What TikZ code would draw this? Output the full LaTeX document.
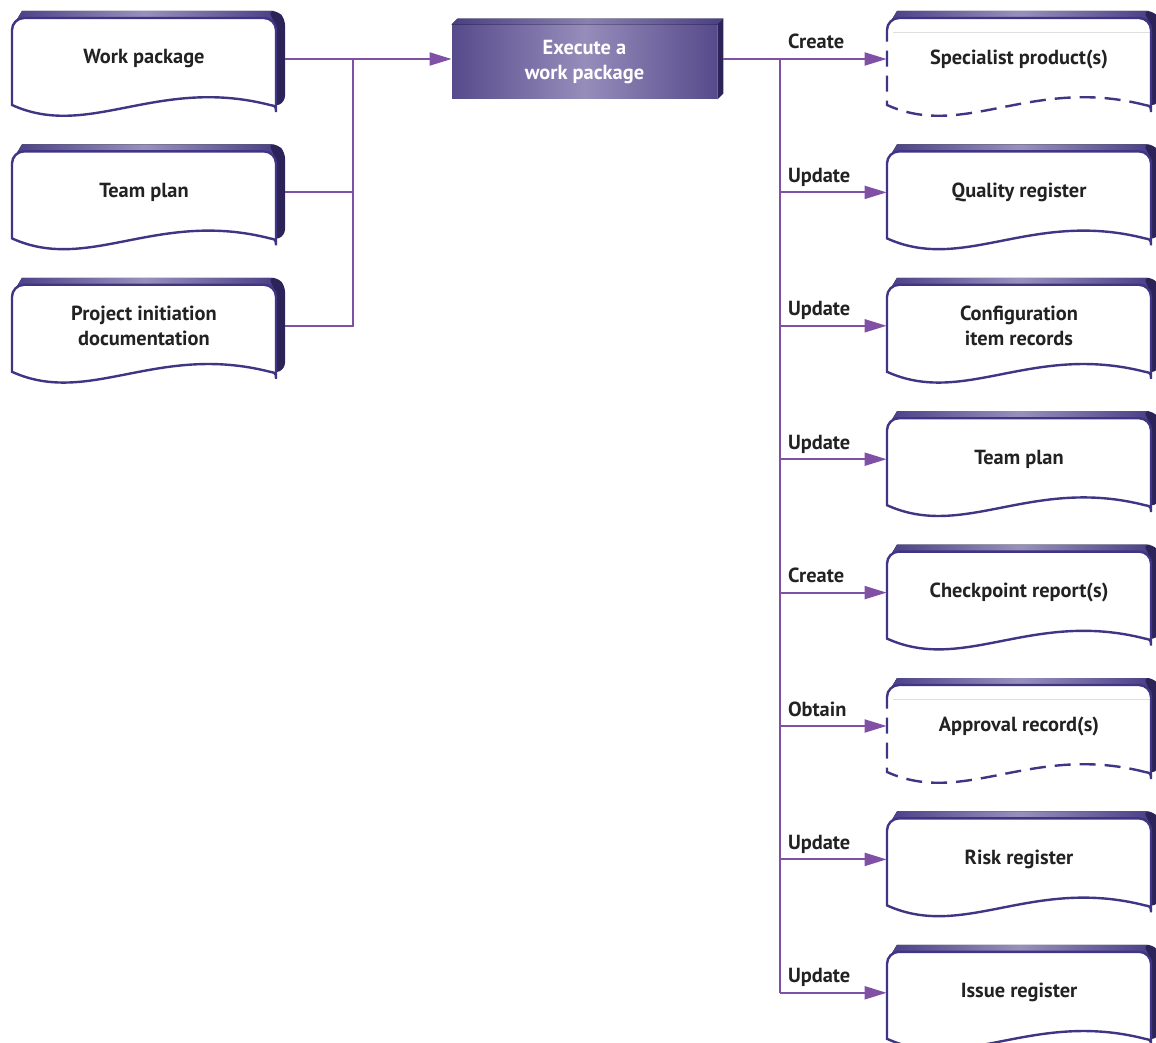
\documentclass[tikz,border=0pt]{standalone}
\usepackage{fontspec}
\setmainfont{PT Sans}
\usetikzlibrary{arrows.meta}
\definecolor{lnk}{RGB}{128,80,165}
\definecolor{edge}{RGB}{62,53,133}
\definecolor{shdA}{RGB}{74,63,134}
\definecolor{shdB}{RGB}{152,144,188}
\definecolor{shdC}{RGB}{44,36,89}
\definecolor{exA}{RGB}{87,74,139}
\definecolor{exB}{RGB}{150,141,187}
\definecolor{ink}{RGB}{34,34,34}

\begin{document}
\begin{tikzpicture}[x=0.5pt,y=-0.5pt,font=\fontsize{10.2}{12.5}\selectfont\bfseries,text=ink,
  link/.style={draw=lnk,line width=1pt},
  tip/.style={-{Triangle[length=11pt,width=6.5pt]}},
  docline/.style={draw=edge,line width=1.2pt,fill=white},
  dashbits/.style={dash pattern=on 8pt off 4.5pt},
  docnode/.style={minimum width=132pt,minimum height=43.5pt,inner sep=0pt,align=center},
  verb/.style={anchor=base west,inner sep=0pt,xshift=3.5pt,yshift=5pt},
  execbox/.style={minimum width=132.5pt,minimum height=37pt,inner sep=0pt,align=center,
    left color=exA,right color=exA,middle color=exB,text=white},
  docshade/.pic={
    \fill[left color=shdA,right color=shdA,middle color=shdB] (1,8) -- (10,-7) -- (260,-7) -- (264,2) -- cycle;
    \fill[shdC,rounded corners=3pt] (256,-7) -- (266,-7) -- (273,1) -- (273,84) -- (262,89) -- (262,2) -- cycle;
  },
  doc/.pic={
    \pic {docshade};
    \path[docline] (0,87) [rounded corners=6pt] -- (0,0) -- (264,0) -- (264,82) [sharp corners]
      .. controls (264,87) and (262,88) .. (258,87) .. controls (145,58) and (77,122) .. (0,87) -- cycle;
  },
  docdash/.pic={
    \pic {docshade};
    \fill[white] (0,87) [rounded corners=6pt] -- (0,0) -- (264,0) -- (264,82) [sharp corners]
      .. controls (264,87) and (262,88) .. (258,87) .. controls (145,58) and (77,122) .. (0,87) -- cycle;
    \draw[gray!25,line width=0.4pt] (6,14) -- (264,14);
    \draw[docline,fill=none] (0,16) [rounded corners=6pt] -- (0,0) -- (264,0) -- (264,82) [sharp corners]
      .. controls (264,87) and (262,88) .. (258,87);
    \draw[docline,fill=none,dashbits] (258,87) .. controls (145,58) and (77,122) .. (0,87) -- (0,16);
  }]
\useasboundingbox (0,0) rectangle (1156,1043);
% inputs on the left
\foreach \n/\y/\t in {wp/18/Work package,tp/151.4/Team plan,pid/284.8/{Project initiation\\documentation}} {
  \pic at (12,\y) {doc};
  \node[docnode] (\n) at (144,\y+41) {\t};
}
% the activity
\node[execbox] (exec) at (584.5,62) {Execute a\\work package};
\fill[left color=shdA,right color=shdA,middle color=shdB!80!shdA]
  (exec.north west) -- ++(6,-6) -- ([shift={(6,-6)}]exec.north east) -- (exec.north east) -- cycle;
\fill[shdC] (exec.north east) -- ++(6,-6) -- ([shift={(6,-6)}]exec.south east) -- (exec.south east) -- cycle;
% outputs on the right
\foreach \n/\i/\t/\s in {sp/0/Specialist product(s)/docdash,qr/1/Quality register/doc,
    cir/2/{Configuration\\item records}/doc,tp2/3/Team plan/doc,cpr/4/Checkpoint report(s)/doc,
    ar/5/Approval record(s)/docdash,rr/6/Risk register/doc,ir/7/Issue register/doc} {
  \pic at (887,18+133.4*\i) {\s};
  \node[docnode] (\n) at (1019,59+133.4*\i) {\t};
}
% connectors
\coordinate (join) at (353,59);
\coordinate (trunk) at (780,59);
\draw[link,tip] ([xshift=4.5pt]wp.east) -- (wp.east -| exec.west);
\draw[link] ([xshift=4.5pt]tp.east) -| (join);
\draw[link] ([xshift=4.5pt]pid.east) -| (join);
\draw[link] ([xshift=3pt]exec.east |- trunk) -- (trunk) -- (trunk |- ir.west);
\foreach \n/\v in {sp/Create,qr/Update,cir/Update,tp2/Update,cpr/Create,ar/Obtain,rr/Update,ir/Update}
  \draw[link,tip] (trunk |- \n.west) -- (\n.west) node[pos=0,verb] {\v};
\end{tikzpicture}
\end{document}
